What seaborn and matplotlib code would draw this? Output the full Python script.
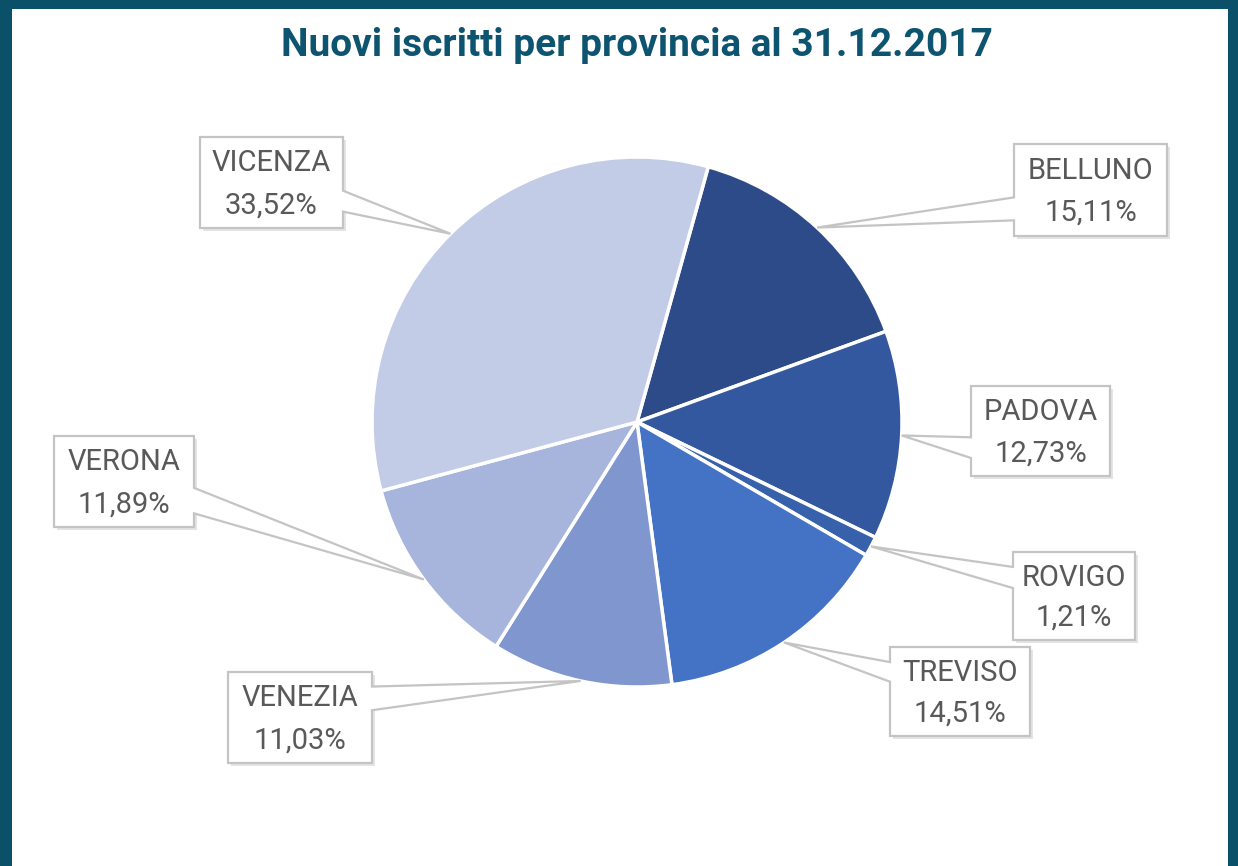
import numpy as np
import matplotlib.pyplot as plt
from matplotlib.patches import Polygon, Rectangle
import seaborn as sns

# data
provinces = ['BELLUNO', 'PADOVA', 'ROVIGO', 'TREVISO', 'VENEZIA', 'VERONA', 'VICENZA']
shares = [15.11, 12.73, 1.21, 14.51, 11.03, 11.89, 33.52]
slice_colors = ['#2e4b89', '#33589f', '#3761ab', '#4472c4', '#8096cf', '#a7b4db', '#c2cce6']
title = 'Nuovi iscritti per provincia al 31.12.2017'

# callout boxes in pixel coords: x0, x1, top, bottom, pointer side, attach fractions
box_layout = {
    'BELLUNO': (1014, 1167, 144, 236, 'left', (0.58, 0.83)),
    'PADOVA': (971, 1110, 386, 476, 'left', (0.57, 0.80)),
    'ROVIGO': (1013, 1135, 552, 640, 'left', (0.17, 0.41)),
    'TREVISO': (890, 1030, 647, 736, 'left', (0.17, 0.39)),
    'VENEZIA': (228, 372, 672, 763, 'right', (0.16, 0.42)),
    'VERONA': (54, 194, 436, 527, 'right', (0.57, 0.85)),
    'VICENZA': (200, 343, 137, 228, 'right', (0.59, 0.82)),
}

W, H = 1238, 866
sns.set_theme(style="white")
plt.rcParams['font.family'] = ['Roboto', 'DejaVu Sans']

fig = plt.figure(figsize=(W / 100, H / 100), dpi=100)
ax = fig.add_axes([0, 0, 1, 1])

cx, cy, R = 637, H - 422, 265
wedges, _ = ax.pie(shares, colors=slice_colors, startangle=74.4, counterclock=False,
                   center=(cx, cy), radius=R,
                   wedgeprops=dict(edgecolor='white', linewidth=2.5))
ax.set_xlim(0, W)
ax.set_ylim(0, H)
ax.set_aspect('equal')
ax.axis('off')

edge = '#c4c4c4'
txt = '#595959'
for w, name, val in zip(wedges, provinces, shares):
    mid = np.deg2rad((w.theta1 + w.theta2) / 2)
    tip = (cx + R * np.cos(mid), cy + R * np.sin(mid))
    x0, x1, top, bot, side, (fa, fb) = box_layout[name]
    yt, yb = H - top, H - bot
    h = yt - yb
    a_hi, a_lo = yt - fa * h, yt - fb * h
    xe = x0 if side == 'left' else x1
    xf = x1 if side == 'left' else x0
    pts = [(xe, a_hi), (xe, yt), (xf, yt), (xf, yb), (xe, yb), (xe, a_lo), tip]
    ax.add_patch(Rectangle((x0 + 3, yb - 3), x1 - x0, h, facecolor='#e4e4e4',
                           edgecolor='none', zorder=3))
    ax.add_patch(Polygon(pts, closed=True, facecolor='white', edgecolor=edge,
                         linewidth=1.6, zorder=4, joinstyle='miter'))
    xc = (x0 + x1) / 2
    ax.text(xc, yt - 0.29 * h, name, ha='center', va='center', fontsize=21,
            color=txt, zorder=5)
    ax.text(xc, yt - 0.75 * h, f"{val:.2f}".replace('.', ',') + '%', ha='center',
            va='center', fontsize=21, color=txt, zorder=5)

ax.text(cx, H - 45, title, ha='center', va='center', fontsize=28,
        fontweight='bold', color='#0d5470')

# dark frame on top, left and right
frame = '#0b5069'
for r in [(0, H - 9, W, 9), (0, 0, 12, H), (W - 10, 0, 10, H)]:
    ax.add_patch(Rectangle(r[:2], r[2], r[3], facecolor=frame, edgecolor='none',
                           zorder=10, clip_on=False))

fig.savefig('out.png', dpi=100, facecolor='white')
